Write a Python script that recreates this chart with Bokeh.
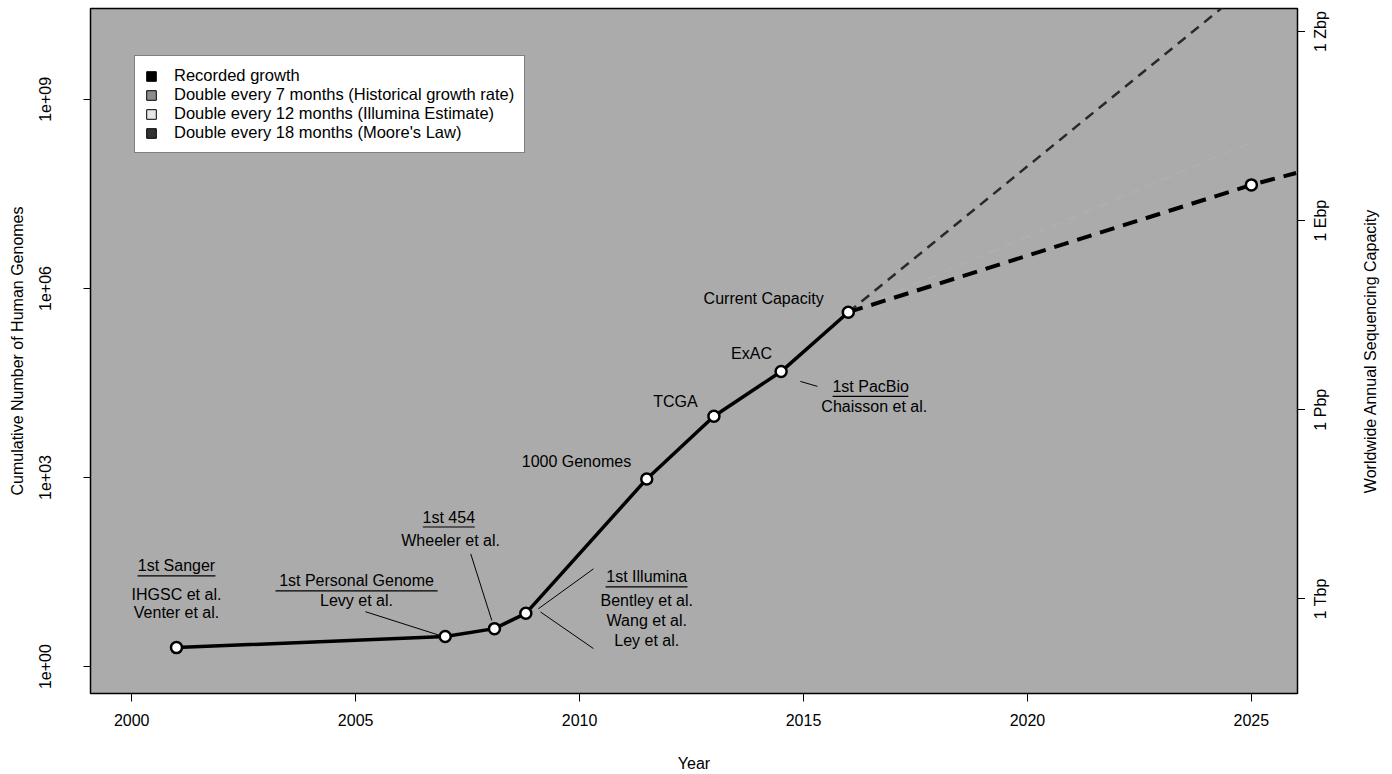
import math
from bokeh.plotting import figure
from bokeh.layouts import row
from bokeh.models import (Range1d, LogScale, LogAxis, FixedTicker, CustomJSTickFormatter,
                          Legend, LegendItem, ColumnDataSource)
from bokeh.core.properties import value
from bokeh.embed import file_html
from bokeh.resources import INLINE

# ---------------- data ----------------
years = [2001, 2007, 2008.1, 2008.8, 2011.5, 2013, 2014.5, 2016]
genomes = [2, 3, 4, 7, 950, 9400, 48000, 420000]

proj7_years = [2016, 2025]
proj7_values = [420000, 6.8e10]
proj12_years = [2016, 2025]
proj12_values = [420000, 2.1e8]
proj18_years = [2016, 2025, 2026]
proj18_values = [420000, 4.4e7, 6.8e7]
proj18_marker_years = [2025]
proj18_marker_values = [4.4e7]

x_ticks = [2000, 2005, 2010, 2015, 2020, 2025]
left_ticks = [1, 1e3, 1e6, 1e9]
right_ticks = [1e12, 1e15, 1e18, 1e21]
right_tick_labels = ["1 Tbp", "1 Pbp", "1 Ebp", "1 Zbp"]
bp_axis_factor = 8.4e10  # bp per genome used to align the right axis

legend_labels = ["Recorded growth",
                 "Double every 7 months (Historical growth rate)",
                 "Double every 12 months (Illumina Estimate)",
                 "Double every 18 months (Moore's Law)"]

# annotation texts (text, year, genomes)
notes = [
    ("1st Sanger", 2001.0, 39.6),
    ("IHGSC et al.", 2001.0, 13.8),
    ("Venter et al.", 2001.0, 7.15),
    ("1st Personal Genome", 2005.02, 22.9),
    ("Levy et al.", 2005.02, 11.1),
    ("1st 454", 2007.08, 236),
    ("Wheeler et al.", 2007.12, 102),
    ("1st Illumina", 2011.5, 26.6),
    ("Bentley et al.", 2011.5, 11.1),
    ("Wang et al.", 2011.5, 5.35),
    ("Ley et al.", 2011.5, 2.58),
    ("1000 Genomes", 2009.93, 1817),
    ("TCGA", 2012.14, 16180),
    ("ExAC", 2013.84, 93000),
    ("Current Capacity", 2014.11, 6.9e5),
    ("1st PacBio", 2016.5, 27900),
    ("Chaisson et al.", 2016.58, 13490),
]
# underlines of the "1st ..." headings (x0, x1, y)
underlines = [
    (2000.13, 2001.87, 27.5),
    (2003.21, 2006.83, 15.9),
    (2006.50, 2007.66, 164),
    (2010.58, 2012.41, 18.4),
    (2015.65, 2017.34, 19400),
]
# leader lines (x0, y0, x1, y1)
leaders = [
    (2005.22, 7.42, 2006.90, 3.09),
    (2007.57, 61.4, 2008.04, 5.4),
    (2009.08, 8.27, 2010.31, 35.5),
    (2009.13, 7.34, 2010.31, 1.93),
    (2014.93, 33500, 2015.31, 27950),
]

FONT = "Liberation Sans"
BG = "#ababab"

y_lo, y_hi = 0.374, 2.77e10
bp_range = Range1d(y_lo * bp_axis_factor, y_hi * bp_axis_factor)

# ---------------- main plot ----------------
p = figure(width=1305, height=774, x_range=Range1d(1999.08, 2026.03),
           y_range=Range1d(y_lo, y_hi), y_axis_type="log",
           output_backend="svg", toolbar_location=None,
           min_border_left=90, min_border_right=8, min_border_top=8, min_border_bottom=79)
p.background_fill_color = BG
p.border_fill_color = "white"
p.outline_line_color = "black"
p.outline_line_width = 1.5
p.grid.visible = False

p.extra_y_ranges = {"bp": bp_range}
p.extra_y_scales = {"bp": LogScale()}
raxis = LogAxis(y_range_name="bp")
p.add_layout(raxis, "right")
raxis.ticker = FixedTicker(ticks=right_ticks)
raxis.formatter = CustomJSTickFormatter(code="return '';")
raxis.major_label_standoff = 0

p.xaxis.ticker = FixedTicker(ticks=x_ticks)
p.xaxis.axis_label = "Year"
p.yaxis[0].ticker = FixedTicker(ticks=left_ticks)
p.yaxis[0].formatter = CustomJSTickFormatter(code="""
const e = Math.round(Math.log10(tick));
return '1e' + (e < 0 ? '-' : '+') + String(Math.abs(e)).padStart(2, '0');
""")
p.yaxis[0].axis_label = "Cumulative Number of Human Genomes"

for ax in [p.xaxis[0], p.yaxis[0], raxis]:
    ax.axis_line_color = None
    ax.major_tick_line_color = "black"
    ax.major_tick_line_width = 1
    ax.major_tick_in = 0
    ax.minor_tick_line_color = None
    ax.major_label_text_font = FONT
    ax.major_label_text_font_size = "16px"
    ax.major_label_text_color = "black"
    ax.axis_label_text_font = FONT
    ax.axis_label_text_font_size = "16px"
    ax.axis_label_text_font_style = "normal"
    ax.axis_label_text_color = "black"

p.xaxis.major_tick_out = 8
p.xaxis.major_label_standoff = 12
p.xaxis.axis_label_standoff = 26
p.yaxis[0].major_tick_out = 7
p.yaxis[0].major_label_orientation = "vertical"
p.yaxis[0].major_label_standoff = 32
p.yaxis[0].axis_label_standoff = 11
raxis.major_tick_out = 8

# projections
p.line(proj12_years, proj12_values, line_color="#afafaf", line_width=2, line_dash="10 7")
p.line(proj7_years, proj7_values, line_color="#2a2a2a", line_width=2.5, line_dash="10 7")
p.line(proj18_years, proj18_values, line_color="black", line_width=4, line_dash="15 9")
p.scatter(proj18_marker_years, proj18_marker_values, marker="circle", size=11,
          fill_color="white", line_color="black", line_width=2.5)

# recorded growth
p.line(years, genomes, line_color="black", line_width=3.5)
p.scatter(years, genomes, marker="circle", size=11, fill_color="white",
          line_color="black", line_width=2.5)

# leader lines and underlines
p.segment(x0=[l[0] for l in leaders], y0=[l[1] for l in leaders],
          x1=[l[2] for l in leaders], y1=[l[3] for l in leaders],
          line_color="black", line_width=1)
p.segment(x0=[u[0] for u in underlines], y0=[u[2] for u in underlines],
          x1=[u[1] for u in underlines], y1=[u[2] for u in underlines],
          line_color="black", line_width=1.2)

src = ColumnDataSource(dict(x=[n[1] for n in notes], y=[n[2] for n in notes],
                            t=[n[0] for n in notes]))
p.text(x="x", y="y", text="t", source=src, text_align="center", text_baseline="middle",
       text_font=value(FONT), text_font_size="16px", text_color="black")

# legend (swatch-only renderers, no visible marks)
leg_fill = ["black", "#8c8c8c", "#e6e6e6", "#333333"]
nan = float("nan")
leg_renderers = []
for c in leg_fill:
    s = ColumnDataSource(dict(l=[nan], r=[nan], b=[nan], t=[nan]))
    leg_renderers.append(p.quad(left="l", right="r", bottom="b", top="t", source=s,
                                fill_color=c, line_color="black", line_width=1))
legend = Legend(items=[LegendItem(label=l, renderers=[r]) for l, r in zip(legend_labels, leg_renderers)],
                location=(44, 540), orientation="vertical")
legend.label_text_font = FONT
legend.label_text_font_size = "16.5px"
legend.label_text_color = "black"
legend.label_height = 18
legend.glyph_height = 12
legend.glyph_width = 12
legend.label_standoff = 17
legend.spacing = 0
legend.padding = 10
legend.margin = 0
legend.border_line_color = "black"
legend.border_line_width = 1.5
legend.background_fill_color = "white"
legend.background_fill_alpha = 1
p.add_layout(legend, "center")

# ---------------- right-side labels (read bottom-to-top as in the reference) ----------------
q = figure(width=87, height=774, x_range=Range1d(0, 1), y_range=bp_range, y_axis_type="log",
           output_backend="svg", toolbar_location=None,
           min_border_left=25, min_border_right=0, min_border_top=8, min_border_bottom=79)
q.outline_line_color = None
q.background_fill_color = "white"
q.border_fill_color = "white"
q.grid.visible = False
q.xaxis.visible = False
qa = q.yaxis[0]
qa.ticker = FixedTicker(ticks=right_ticks)
qa.formatter = CustomJSTickFormatter(code="""
const e = Math.round(Math.log10(tick));
const m = {12: '1 Tbp', 15: '1 Pbp', 18: '1 Ebp', 21: '1 Zbp'};
return (e in m) ? m[e] : '';
""")
qa.major_label_orientation = "vertical"
qa.major_label_standoff = 1
qa.major_tick_out = 0
qa.major_tick_in = 0
qa.major_tick_line_color = None
qa.minor_tick_line_color = None
qa.axis_line_color = None
qa.major_label_text_font = FONT
qa.major_label_text_font_size = "16px"
qa.major_label_text_color = "black"

q.text(x=[0.645], y=[math.sqrt(bp_range.start * bp_range.end)],
       text=["Worldwide Annual Sequencing Capacity"], angle=math.pi / 2,
       text_align="center", text_baseline="middle", text_font=value(FONT),
       text_font_size="16px", text_color="black")

layout = row(p, q, spacing=0)
open("out.html", "w").write(file_html(layout, INLINE))
